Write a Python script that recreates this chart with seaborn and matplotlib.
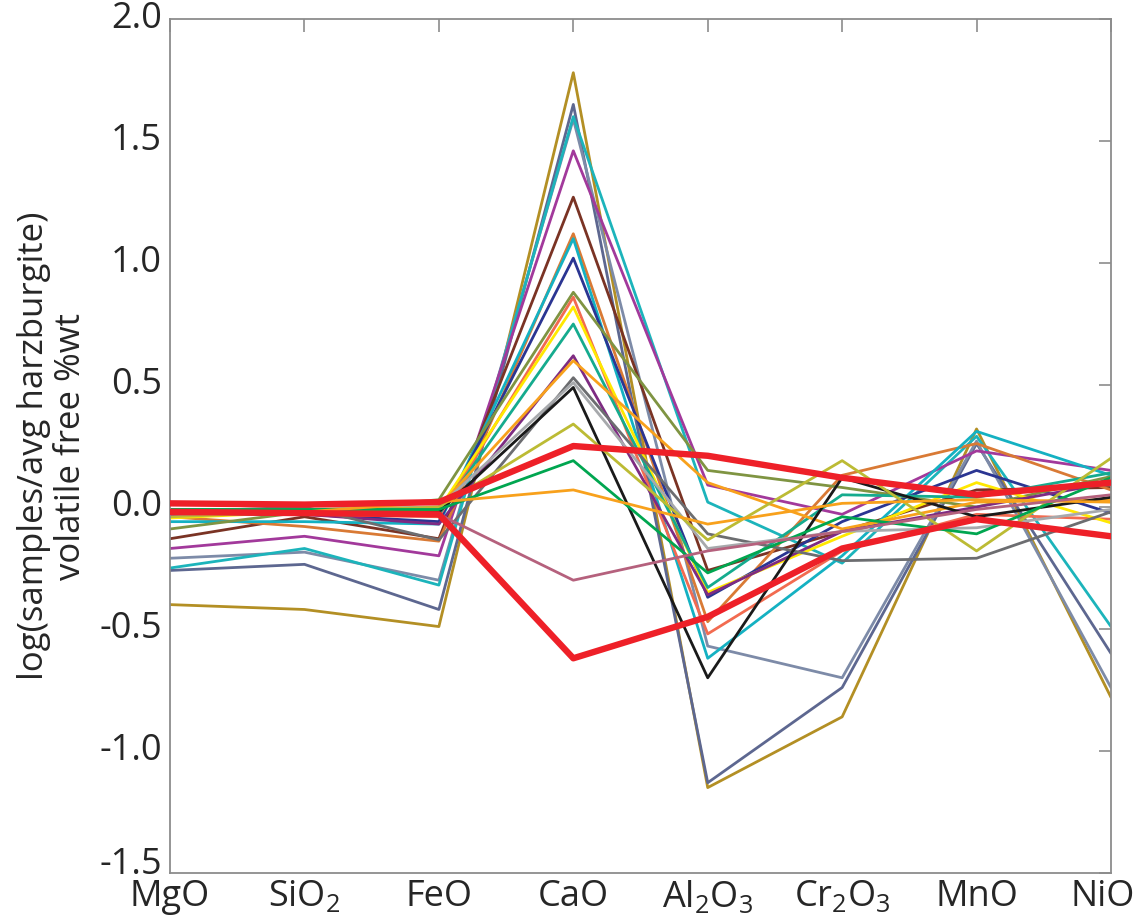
import numpy as np
import pandas as pd
import matplotlib
matplotlib.use("Agg")
import matplotlib.pyplot as plt
import matplotlib.transforms as mtransforms
import seaborn as sns

# oxides on the x axis
oxides = ['MgO', 'SiO2', 'FeO', 'CaO', 'Al2O3', 'Cr2O3', 'MnO', 'NiO']
tick_labels = ['MgO', r'SiO$_2$', 'FeO', 'CaO', r'Al$_2$O$_3$', r'Cr$_2$O$_3$', 'MnO', 'NiO']

# log(sample / avg harzburgite), one list per sample
gold      = [-0.40, -0.42, -0.49, 1.78, -1.15, -0.86, 0.32, -0.78]
slate     = [-0.26, -0.235, -0.42, 1.65, -1.13, -0.74, 0.26, -0.60]
steel     = [-0.21, -0.185, -0.30, 1.59, -0.57, -0.70, 0.27, -0.74]
cyan_a    = [-0.25, -0.17, -0.32, 1.60, 0.02, -0.23, 0.29, -0.49]
magenta   = [-0.17, -0.12, -0.20, 1.46, 0.09, -0.03, 0.23, 0.15]
brown     = [-0.13, -0.04, -0.13, 1.27, -0.26, -0.10, 0.07, 0.08]
copper    = [-0.04, -0.08, -0.14, 1.12, -0.47, 0.13, 0.26, 0.07]
cyan_b    = [-0.06, -0.06, -0.07, 1.10, -0.62, -0.20, 0.31, 0.13]
navy      = [-0.03, -0.03, -0.06, 1.02, -0.37, -0.06, 0.15, -0.025]
olive     = [-0.09, -0.02, 0.03, 0.88, 0.15, 0.08, 0.00, 0.125]
coral     = [-0.03, -0.03, -0.04, 0.86, -0.52, -0.18, -0.03, -0.05]
yellow    = [-0.045, -0.02, -0.01, 0.82, -0.35, -0.12, 0.10, -0.065]
teal      = [-0.02, -0.02, -0.03, 0.75, -0.33, 0.05, 0.04, 0.14]
purple    = [-0.03, -0.03, -0.07, 0.62, -0.36, -0.10, 0.00, 0.10]
orange_a  = [-0.02, -0.01, 0.00, 0.60, 0.10, -0.09, 0.02, 0.03]
gray      = [-0.02, 0.00, -0.135, 0.53, -0.11, -0.22, -0.21, -0.02]
lightgray = [-0.01, -0.01, 0.00, 0.51, -0.17, -0.10, -0.085, -0.01]
black     = [-0.03, -0.02, -0.02, 0.49, -0.70, 0.12, -0.04, 0.04]
khaki     = [-0.04, -0.02, 0.00, 0.34, -0.135, 0.19, -0.18, 0.20]
green     = [-0.01, -0.01, -0.01, 0.19, -0.27, -0.04, -0.11, 0.12]
orange_b  = [-0.02, -0.02, 0.02, 0.07, -0.07, 0.015, 0.03, 0.02]
mauve     = [-0.03, -0.02, -0.03, -0.30, -0.18, -0.10, -0.01, 0.05]
red_up    = [0.015, 0.01, 0.02, 0.25, 0.21, 0.12, 0.05, 0.10]
red_low   = [-0.02, -0.025, -0.03, -0.62, -0.45, -0.17, -0.05, -0.12]

samples = [
    ('gold', gold, '#b38f24'), ('slate', slate, '#5d6790'), ('steel', steel, '#7d8ba8'),
    ('cyan_a', cyan_a, '#1cb4bb'), ('magenta', magenta, '#a2399b'), ('brown', brown, '#7a3324'),
    ('copper', copper, '#d97a35'), ('cyan_b', cyan_b, '#14b1c2'), ('navy', navy, '#2b3592'),
    ('olive', olive, '#7f9442'), ('coral', coral, '#f26b50'), ('yellow', yellow, '#ffe800'),
    ('teal', teal, '#15ab8e'), ('purple', purple, '#7e2b82'), ('orange_a', orange_a, '#f8a11c'),
    ('gray', gray, '#6c6d70'), ('lightgray', lightgray, '#a7a9ac'), ('black', black, '#1a1a1a'),
    ('khaki', khaki, '#bcbb34'), ('green', green, '#00a650'), ('orange_b', orange_b, '#f8a11c'),
    ('mauve', mauve, '#b5617d'), ('red_up', red_up, '#ee2028'), ('red_low', red_low, '#ee2028'),
]

rows = []
for name, vals, col in samples:
    for i, v in enumerate(vals):
        rows.append({'sample': name, 'pos': i, 'value': v})
df = pd.DataFrame(rows)
palette = {name: col for name, vals, col in samples}
widths = {name: (4.6 if name.startswith('red') else 2.0) for name, vals, col in samples}

sns.set_style('white')
plt.rcParams['font.family'] = ['Open Sans', 'DejaVu Sans']
plt.rcParams['mathtext.default'] = 'regular'

fig = plt.figure(figsize=(11.39, 9.24), dpi=100)
ax = fig.add_axes([0.1493, 0.0552, 0.8261, 0.9242])

for name, vals, col in samples:
    sub = df[df['sample'] == name]
    sns.lineplot(data=sub, x='pos', y='value', color=palette[name],
                 linewidth=widths[name], ax=ax, legend=False, sort=False,
                 zorder=3 if name.startswith('red') else 2)

ax.set_xlim(0, len(oxides) - 1)
ax.set_ylim(-1.5, 2.0)
ax.set_xticks(range(len(oxides)))
ax.set_xticklabels(tick_labels, fontsize=26)
yt = np.arange(-1.5, 2.01, 0.5)
ax.set_yticks(yt)
ax.set_yticklabels([f'{t:.1f}' for t in yt], fontsize=26)
ax.set_xlabel('')
ax.set_ylabel('log(samples/avg harzburgite)\nvolatile free %wt', fontsize=25, labelpad=8,
              linespacing=1.1, multialignment='center')

for s in ax.spines.values():
    s.set_color('#8c8c8c')
    s.set_linewidth(1.3)
ax.tick_params(direction='in', length=9, width=1.2, color='#8c8c8c',
               top=True, right=True, pad=6)
ax.tick_params(axis='x', pad=4)

# nudge labels like the original export: lowest y label up, last x label inward
for i, lab in enumerate(ax.get_yticklabels()):
    dy = 12 if i == 0 else 5
    lab.set_transform(lab.get_transform() + mtransforms.ScaledTranslation(0, dy / 100, fig.dpi_scale_trans))
last = ax.get_xticklabels()[-1]
last.set_transform(last.get_transform() + mtransforms.ScaledTranslation(-8 / 100, 0, fig.dpi_scale_trans))

fig.savefig('out.png', dpi=100)
